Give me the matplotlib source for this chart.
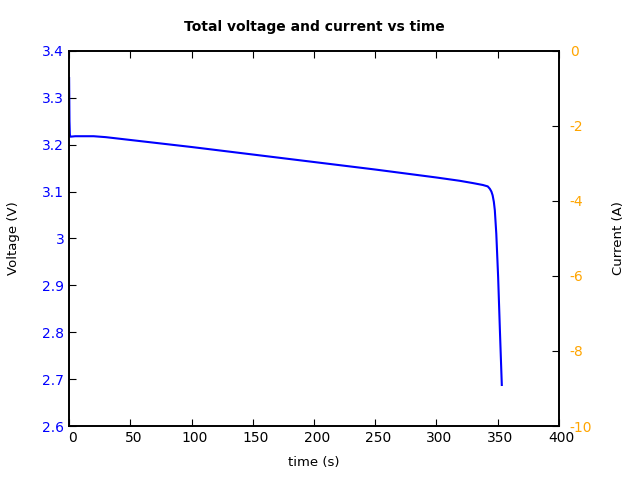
import matplotlib
matplotlib.use("Agg")
import matplotlib.pyplot as plt
import matplotlib.transforms as mtransforms

plt.rcParams['axes.unicode_minus'] = False

time_s = [0, 0.3, 0.6, 1, 5, 10, 20, 30, 50, 100, 150, 200, 250, 300, 319, 330, 338, 342, 343.7, 345, 346, 347, 347.8, 349, 350.5, 352, 353.5]
voltage = [3.342, 3.25, 3.222, 3.217, 3.218, 3.218, 3.218, 3.216, 3.210, 3.195, 3.179, 3.163, 3.147, 3.130, 3.123, 3.118, 3.114, 3.111, 3.106, 3.100, 3.092, 3.078, 3.060, 3.010, 2.918, 2.80, 2.6875]

fig = plt.figure(figsize=(6.4, 4.8), dpi=100)
ax = fig.add_axes([0.108, 0.1125, 0.765, 0.7815])
ax.plot(time_s, voltage, color='blue', lw=1.5)
ax.set_xlim(0, 400)
ax.set_ylim(2.6, 3.4)
ax.set_xticks(range(0, 401, 50))
ax.set_yticks([2.6, 2.7, 2.8, 2.9, 3.0, 3.1, 3.2, 3.3, 3.4])
ax.set_yticklabels(['2.6', '2.7', '2.8', '2.9', '3', '3.1', '3.2', '3.3', '3.4'])
ax.tick_params(axis='y', colors='blue', direction='in', length=5)
ax.tick_params(axis='y', color='black')
ax.tick_params(axis='x', direction='in', length=5, top=True)
ax.set_xlabel('time (s)', labelpad=8, fontsize=9.5)
ax.set_ylabel('Voltage (V)', labelpad=16, fontsize=9.5)
ax.set_title('Total voltage and current vs time', fontweight='bold', fontsize=10, pad=14.5)

offset = mtransforms.ScaledTranslation(3/100, 0, fig.dpi_scale_trans)
for lab in ax.get_xticklabels():
    lab.set_transform(lab.get_transform() + offset)

ax2 = ax.twinx()
ax2.set_ylim(-10, 0)
ax2.set_yticks([-10, -8, -6, -4, -2, 0])
ax2.tick_params(axis='y', colors='orange', direction='in', length=5, pad=8)
ax2.tick_params(axis='y', color='black')
ax2.set_ylabel('Current (A)', labelpad=14, fontsize=9.5)
for s in list(ax.spines.values()) + list(ax2.spines.values()):
    s.set_linewidth(1.2)

fig.savefig('out.png', dpi=100)
